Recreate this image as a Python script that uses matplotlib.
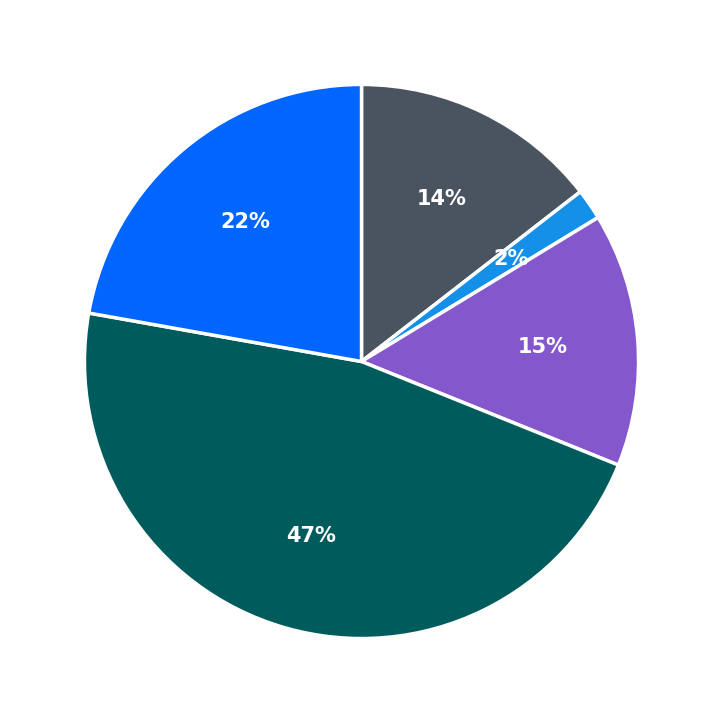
import matplotlib.pyplot as plt

# slice shares (clockwise from 12 o'clock)
shares = [14.5, 1.8, 14.8, 46.7, 22.2]
colors = ['#4a5461', '#1490e8', '#8457cc', '#005c5c', '#0066ff']

fig = plt.figure(figsize=(7.23, 7.23), dpi=100)
ax = fig.add_axes([0.021, 0.021, 0.958, 0.958])
wedges, texts, autotexts = ax.pie(
    shares, colors=colors, startangle=90, counterclock=False,
    autopct='%1.0f%%', pctdistance=0.655,
    wedgeprops=dict(edgecolor='white', linewidth=2.5),
    textprops=dict(color='white', fontsize=15, fontweight='bold'))
ax.set_aspect('equal')
fig.savefig('out.png', dpi=100)
